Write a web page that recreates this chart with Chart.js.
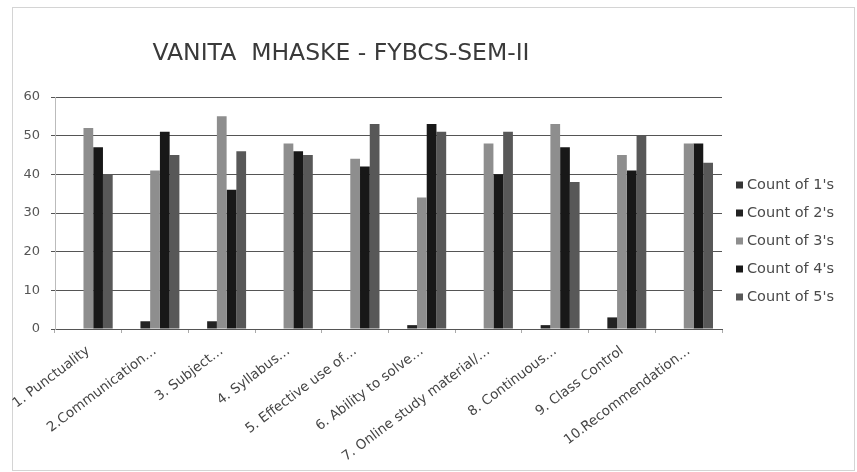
<!DOCTYPE html>
<html>
<head>
<meta charset="utf-8">
<script src="https://cdn.jsdelivr.net/npm/chart.js@4/dist/chart.umd.min.js"></script>
<style>
  html, body { margin: 0; padding: 0; background: #fff; }
  #box { width: 857px; height: 472px; position: relative; }
</style>
</head>
<body>
<div id="box"><canvas id="grafico"></canvas></div>
<script>
// dados
const categorias = [
  "1. Punctuality",
  "2.Communication…",
  "3. Subject…",
  "4. Syllabus…",
  "5. Effective use of…",
  "6. Ability to solve…",
  "7. Online study material/…",
  "8. Continuous…",
  "9. Class Control",
  "10.Recommendation…"
];
const nomesSeries = ["Count of 1's", "Count of 2's", "Count of 3's", "Count of 4's", "Count of 5's"];
const count1 = [0, 0, 0, 0, 0, 0, 0, 0, 0, 0];
const count2 = [0, 2, 2, 0, 0, 1, 0, 1, 3, 0];
const count3 = [52, 41, 55, 48, 44, 34, 48, 53, 45, 48];
const count4 = [47, 51, 36, 46, 42, 53, 40, 47, 41, 48];
const count5 = [40, 45, 46, 45, 53, 51, 51, 38, 50, 43];
const ticksY = [0, 10, 20, 30, 40, 50, 60];
const titulo = "VANITA  MHASKE - FYBCS-SEM-II";

const cores = ["#353535", "#222222", "#8e8e8e", "#181818", "#585858"];
const fonte = "'DejaVu Sans', Verdana, sans-serif";

// moldura, título e legenda desenhados à mão (posição como no original)
const extras = {
  id: "extras",
  beforeDraw(chart) {
    const ctx = chart.ctx;
    ctx.save();
    ctx.fillStyle = "#fff";
    ctx.fillRect(0, 0, chart.width, chart.height);
    ctx.strokeStyle = "#d4d4d4";
    ctx.lineWidth = 1;
    ctx.strokeRect(12.5, 7.5, 842, 463);
    ctx.restore();
  },
  afterDraw(chart) {
    const ctx = chart.ctx;
    ctx.save();
    ctx.font = "23.5px " + fonte;
    ctx.fillStyle = "#3a3a3a";
    ctx.textAlign = "center";
    ctx.textBaseline = "middle";
    ctx.fillText(titulo, 341, 54);

    // legenda
    ctx.font = "14.5px " + fonte;
    ctx.textAlign = "left";
    const x0 = 736, y0 = 185, passo = 28;
    nomesSeries.forEach((nome, i) => {
      const y = y0 + i * passo;
      ctx.fillStyle = cores[i];
      ctx.fillRect(x0, y - 3.5, 7, 7);
      ctx.fillStyle = "#4a4a4a";
      ctx.fillText(nome, x0 + 11, y);
    });
    ctx.restore();
  }
};

const series = [count1, count2, count3, count4, count5];

new Chart(document.getElementById("grafico"), {
  type: "bar",
  data: {
    labels: categorias,
    datasets: series.map((d, i) => ({
      label: nomesSeries[i],
      data: d,
      backgroundColor: cores[i],
      borderWidth: 0,
      categoryPercentage: 0.73,
      barPercentage: 1.0
    }))
  },
  options: {
    responsive: true,
    maintainAspectRatio: false,
    animation: false,
    layout: { padding: { top: 97, left: 10, right: 135, bottom: 0 } },
    plugins: {
      legend: { display: false },
      tooltip: { enabled: false }
    },
    scales: {
      x: {
        afterFit(scale) { scale.height = 143; },
        grid: { drawOnChartArea: false, drawTicks: true, tickLength: 4, color: "#aaa" },
        border: { color: "#555" },
        ticks: {
          maxRotation: 37,
          minRotation: 37,
          autoSkip: false,
          padding: 10,
          color: "#444",
          font: { family: fonte, size: 13.5 }
        }
      },
      y: {
        min: 0,
        max: 60,
        afterFit(scale) { scale.width = 45; },
        afterBuildTicks(axis) { axis.ticks = ticksY.map(v => ({ value: v })); },
        grid: { color: "#555", tickLength: 4 },
        border: { color: "#bbb" },
        ticks: {
          color: "#555",
          padding: 11,
          font: { family: fonte, size: 13 }
        }
      }
    }
  },
  plugins: [extras]
});
</script>
</body>
</html>
